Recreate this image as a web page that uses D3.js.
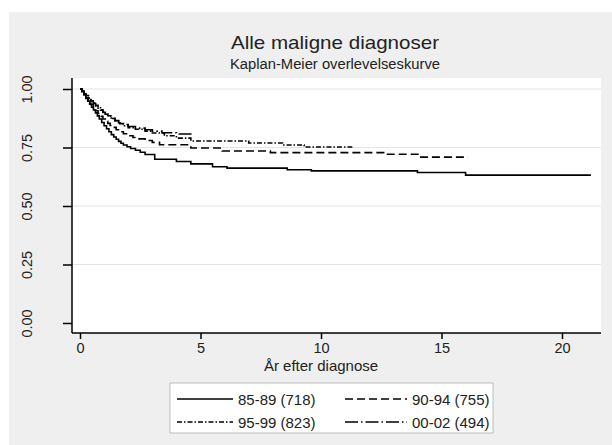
<!DOCTYPE html>
<html>
<head>
<meta charset="utf-8">
<script src="https://cdn.jsdelivr.net/npm/d3@7"></script>
<style>
    body { margin: 0; background: #fff; }
    text { font-family: "Liberation Sans", Arial, sans-serif; fill: #222; }
</style>
</head>
<body>
<div id="chart"></div>
<script>
// survival estimates (time in years, S(t))
const t8589 = [0, 0.08, 0.16, 0.24, 0.32, 0.4, 0.48, 0.56, 0.64, 0.72, 0.8, 0.9, 1.0, 1.1, 1.2, 1.3, 1.4, 1.5, 1.6, 1.7, 1.8, 1.95, 2.1, 2.3, 2.5, 2.7, 3.1, 4.0, 4.6, 5.5, 6.1, 8.6, 9.6, 14.0, 16.0, 21.2];
const s8589 = [1, 0.99, 0.975, 0.96, 0.948, 0.935, 0.922, 0.91, 0.898, 0.885, 0.872, 0.857, 0.843, 0.83, 0.817, 0.805, 0.795, 0.785, 0.776, 0.768, 0.761, 0.753, 0.746, 0.738, 0.73, 0.72, 0.70, 0.69, 0.68, 0.668, 0.662, 0.655, 0.65, 0.643, 0.632, 0.632];

const t9094 = [0, 0.08, 0.16, 0.25, 0.35, 0.45, 0.55, 0.65, 0.75, 0.85, 0.95, 1.05, 1.15, 1.25, 1.35, 1.5, 1.65, 1.8, 2.0, 2.2, 2.45, 2.7, 3.0, 3.3, 4.6, 5.9, 7.9, 12.6, 14.1, 16.1];
const s9094 = [1, 0.99, 0.975, 0.962, 0.948, 0.934, 0.92, 0.907, 0.895, 0.883, 0.872, 0.862, 0.853, 0.844, 0.836, 0.826, 0.817, 0.809, 0.8, 0.793, 0.787, 0.78, 0.772, 0.762, 0.748, 0.735, 0.728, 0.721, 0.709, 0.709];

const t9599 = [0, 0.08, 0.16, 0.25, 0.35, 0.45, 0.55, 0.65, 0.75, 0.85, 0.95, 1.05, 1.15, 1.3, 1.45, 1.6, 1.8, 2.0, 2.3, 2.7, 3.0, 3.5, 4.0, 4.6, 7.0, 8.4, 9.3, 11.3];
const s9599 = [1, 0.992, 0.982, 0.972, 0.961, 0.95, 0.94, 0.93, 0.92, 0.911, 0.902, 0.894, 0.886, 0.875, 0.864, 0.852, 0.843, 0.835, 0.828, 0.82, 0.812, 0.80, 0.79, 0.778, 0.769, 0.761, 0.752, 0.752];

const t0002 = [0, 0.08, 0.16, 0.25, 0.35, 0.45, 0.55, 0.65, 0.75, 0.85, 0.95, 1.05, 1.15, 1.3, 1.45, 1.6, 1.8, 2.0, 2.3, 2.7, 3.0, 3.4, 4.0, 4.7];
const s0002 = [1, 0.99, 0.98, 0.97, 0.96, 0.949, 0.938, 0.928, 0.918, 0.909, 0.9, 0.892, 0.884, 0.874, 0.865, 0.856, 0.848, 0.84, 0.833, 0.826, 0.82, 0.813, 0.808, 0.808];

const groupLabels = ["85-89 (718)", "90-94 (755)", "95-99 (823)", "00-02 (494)"];
const xTicks = [0, 5, 10, 15, 20];
const yTicks = [0, 0.25, 0.5, 0.75, 1];

const width = 612;
const height = 445;
const labelFont = "14.5px";

const svg = d3
    .select("#chart")
    .append("svg")
    .attr("width", width)
    .attr("height", height);

// grey graph region
svg.append("rect")
    .attr("x", 9)
    .attr("y", 12)
    .attr("width", width - 9)
    .attr("height", height - 12)
    .attr("fill", "#efefef");

// plot region
const plot = { left: 72, right: 601, top: 78, bottom: 333 };

svg.append("rect")
    .attr("x", plot.left)
    .attr("y", plot.top)
    .attr("width", plot.right - plot.left)
    .attr("height", plot.bottom - plot.top)
    .attr("fill", "#fff");

const x = d3.scaleLinear().domain([0, 20]).range([80, 562]);
const y = d3.scaleLinear().domain([0, 1]).range([323, 89]);

// gridlines
svg.selectAll(".grid")
    .data(yTicks.filter((d) => d > 0))
    .enter()
    .append("line")
    .attr("x1", plot.left)
    .attr("x2", plot.right)
    .attr("y1", (d) => y(d))
    .attr("y2", (d) => y(d))
    .attr("stroke", "#e4e4e4")
    .attr("stroke-width", 1);

// axes
const yAxis = d3
    .axisLeft(y)
    .tickValues(yTicks)
    .tickSize(9)
    .tickFormat(d3.format(".2f"));

const yg = svg.append("g").attr("transform", `translate(${plot.left},0)`).call(yAxis);
yg.select(".domain").attr("d", `M0,${plot.top}V${plot.bottom}`).attr("stroke-width", 1.5);
yg.selectAll(".tick line").attr("stroke-width", 1.5);
yg.selectAll(".tick text")
    .attr("x", 0)
    .attr("dy", 0)
    .attr("transform", "translate(-45,0) rotate(-90)")
    .attr("text-anchor", "middle")
    .attr("dominant-baseline", "central")
    .style("font-size", labelFont)
    .style("font-family", "Liberation Sans, Arial, sans-serif")
    .attr("fill", "#222");

const xAxis = d3.axisBottom(x).tickValues(xTicks).tickSize(6);
const xg = svg.append("g").attr("transform", `translate(0,${plot.bottom})`).call(xAxis);
xg.select(".domain").attr("d", `M${plot.left},0H${plot.right}`).attr("stroke-width", 1.5);
xg.selectAll(".tick line").attr("stroke-width", 1.5);
xg.selectAll(".tick text")
    .attr("y", 10)
    .style("font-size", labelFont)
    .style("font-family", "Liberation Sans, Arial, sans-serif")
    .attr("fill", "#222");

svg.append("text")
    .attr("x", x(10))
    .attr("y", 371)
    .attr("text-anchor", "middle")
    .style("font-size", "15px")
    .text("År efter diagnose");

// titles
svg.append("text")
    .attr("x", 335)
    .attr("y", 49)
    .attr("text-anchor", "middle")
    .style("font-size", "19px")
    .attr("textLength", 208)
    .attr("lengthAdjust", "spacingAndGlyphs")
    .text("Alle maligne diagnoser");

svg.append("text")
    .attr("x", 335)
    .attr("y", 69)
    .attr("text-anchor", "middle")
    .style("font-size", "14px")
    .attr("textLength", 210)
    .attr("lengthAdjust", "spacingAndGlyphs")
    .text("Kaplan-Meier overlevelseskurve");

// curves
const series = [
    { label: groupLabels[0], t: t8589, s: s8589, dash: null },
    { label: groupLabels[1], t: t9094, s: s9094, dash: "8,4" },
    { label: groupLabels[2], t: t9599, s: s9599, dash: "5,2,1.5,2" },
    { label: groupLabels[3], t: t0002, s: s0002, dash: "13,3,1.5,3" },
];

const line = d3
    .line()
    .x((d) => x(d[0]))
    .y((d) => y(d[1]))
    .curve(d3.curveStepAfter);

svg.selectAll(".km")
    .data(series)
    .enter()
    .append("path")
    .attr("d", (d) => line(d3.zip(d.t, d.s)))
    .attr("fill", "none")
    .attr("stroke", "#000")
    .attr("stroke-width", 1.6)
    .attr("stroke-dasharray", (d) => d.dash);

// legend
const legend = svg.append("g");
legend.append("rect")
    .attr("x", 170)
    .attr("y", 383)
    .attr("width", 323)
    .attr("height", 50)
    .attr("fill", "#fff")
    .attr("stroke", "#bdbdbd")
    .attr("stroke-width", 1);

const cols = [177, 345];
const rows = [399, 422];

const items = legend.selectAll(".item")
    .data(series)
    .enter()
    .append("g")
    .attr("transform", (d, i) => `translate(${cols[i % 2]},${rows[Math.floor(i / 2)]})`);

items.append("line")
    .attr("x1", 0)
    .attr("x2", (d, i) => (i % 2 ? 62 : 56))
    .attr("stroke", "#000")
    .attr("stroke-width", 1.5)
    .attr("stroke-dasharray", (d) => d.dash);

items.append("text")
    .attr("x", (d, i) => (i % 2 ? 67 : 61))
    .attr("dominant-baseline", "central")
    .style("font-size", "15px")
    .text((d) => d.label);
</script>
</body>
</html>
